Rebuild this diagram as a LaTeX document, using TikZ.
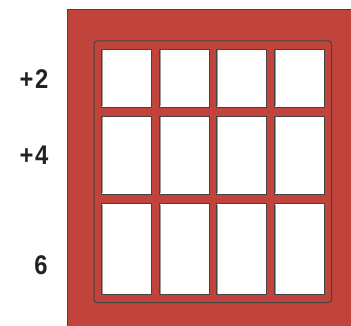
\documentclass[tikz,border=0pt]{standalone}
\usepackage{fontspec}
\setmainfont{Liberation Sans}
\newfontfamily\lblfont[FakeStretch=0.88, LetterSpace=6]{Liberation Sans}
\usepackage{tikz}
\usetikzlibrary{positioning}
\definecolor{clBrick}{HTML}{C0443C}
\definecolor{clEdge}{HTML}{444444}
\definecolor{clShade}{HTML}{9A9A9A}
\definecolor{clInk}{HTML}{222222}
\tikzset{
  frame/.style={fill=clBrick, draw=clEdge, line width=0.8pt},
  sash/.style={fill=clBrick, draw=clEdge, line width=1pt, rounded corners=3pt},
  pane/.style={fill=white, draw=clEdge, line width=1pt},
  paneshade/.style={draw=clShade, line width=1.2pt},
  lbl/.style={text=clInk, font=\fontsize{27}{27}\lblfont\bfseries, inner sep=0pt},
}
\begin{document}
\begin{tikzpicture}[x=1pt, y=-1pt]
  \useasboundingbox (0,0) rectangle (351,326);
  % outer wall opening
  \filldraw[frame] (67,9.5) rectangle (355,330);
  % window sash
  \draw[sash] (94,41) rectangle (331.5,302.5);
  % panes: columns x (left/right), rows y (top/bottom)
  \foreach \ya/\yb in {49.5/107.5, 116.5/194.5, 204/294.5} {
    \foreach \xa/\xb in {101.5/151.5, 159.5/209, 216.5/266.5, 274.5/324} {
      \draw[pane] (\xa,\ya) rectangle (\xb,\yb);
      \draw[paneshade] (\xa+1.2,\ya+1) -- (\xa+1.2,\yb-1);
    }
  }
  % row labels
  \node[lbl] (lblTop) at (34,79) {+2};
  \node[lbl] (lblMid) at (34,155) {+4};
  \node[lbl] (lblLow) at (41,265) {6};
\end{tikzpicture}
\end{document}
